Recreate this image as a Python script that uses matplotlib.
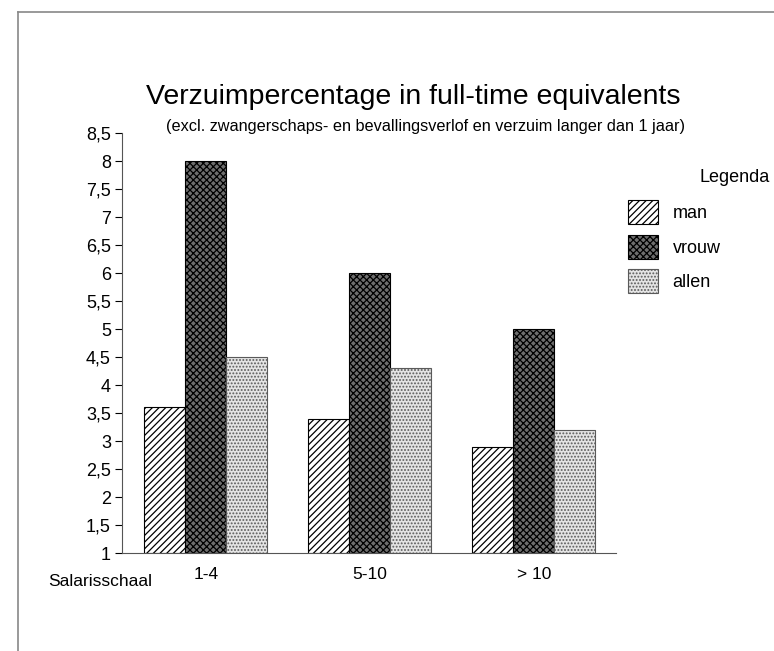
import matplotlib
matplotlib.use("Agg")
import matplotlib.pyplot as plt
from matplotlib.lines import Line2D
import numpy as np

categories = ["1-4", "5-10", "> 10"]
series = ["man", "vrouw", "allen"]
man = [3.6, 3.4, 2.9]
vrouw = [8.0, 6.0, 5.0]
allen = [4.5, 4.3, 3.2]
yticks = [1, 1.5, 2, 2.5, 3, 3.5, 4, 4.5, 5, 5.5, 6, 6.5, 7, 7.5, 8, 8.5]

plt.rcParams["font.family"] = ["Liberation Sans", "DejaVu Sans"]
plt.rcParams["hatch.linewidth"] = 0.9

W, H = 774, 651
fig = plt.figure(figsize=(W / 100, H / 100), dpi=100)
ax = fig.add_axes([122 / W, (H - 553) / H, (616 - 122) / W, (553 - 133) / H])

x = np.arange(len(categories))
bw = 0.25
styles = [
    dict(facecolor="white", edgecolor="black", hatch="/////"),
    dict(facecolor="#6e6e6e", edgecolor="black", hatch="xxxxx"),
    dict(facecolor="#e4e4e4", edgecolor="#5a5a5a", hatch="....."),
]
handles = []
for i, (name, vals) in enumerate(zip(series, [man, vrouw, allen])):
    b = ax.bar(x + (i - 1) * bw, np.array(vals) - 1, bottom=1, width=bw,
               linewidth=0.8, label=name, **styles[i])
    handles.append(b)

ax.set_xlim(-0.51, 2.5)
ax.set_ylim(1, 8.5)
ax.set_yticks(yticks)
ax.set_yticklabels([f"{t:g}".replace(".", ",") for t in yticks], fontsize=13)
ax.set_xticks(x)
ax.set_xticklabels(categories, fontsize=12.5)
ax.tick_params(axis="x", length=0, pad=10)
ax.tick_params(axis="y", length=5, width=0.8, pad=3, direction="out")
for s in ["top", "right"]:
    ax.spines[s].set_visible(False)
ax.spines["left"].set_color("#555555")
ax.spines["bottom"].set_color("#555555")

fig.text(48 / W, 1 - 581 / H, "Salarisschaal", fontsize=12.5, va="center", ha="left")
fig.text(413 / W, 1 - 97 / H, "Verzuimpercentage in full-time equivalents",
         fontsize=20.5, ha="center", va="center")
fig.text(425 / W, 1 - 127 / H,
         "(excl. zwangerschaps- en bevallingsverlof en verzuim langer dan 1 jaar)",
         fontsize=11.7, ha="center", va="center")

fig.text(770 / W, 1 - 177 / H, "Legenda", fontsize=13, ha="right", va="center")
leg = fig.legend(handles=handles, labels=series, loc="upper left",
                 bbox_to_anchor=(612 / W, 1 - 184 / H), frameon=False,
                 fontsize=13, handlelength=1.65, handleheight=1.65,
                 labelspacing=0.6, handletextpad=0.8)

# scanned page border
fig.add_artist(Line2D([18 / W, 18 / W], [0, 1 - 12 / H], color="#888888", lw=1.2))
fig.add_artist(Line2D([18 / W, 1], [1 - 12 / H, 1 - 12 / H], color="#888888", lw=1.2))

fig.savefig("out.png", dpi=100)
